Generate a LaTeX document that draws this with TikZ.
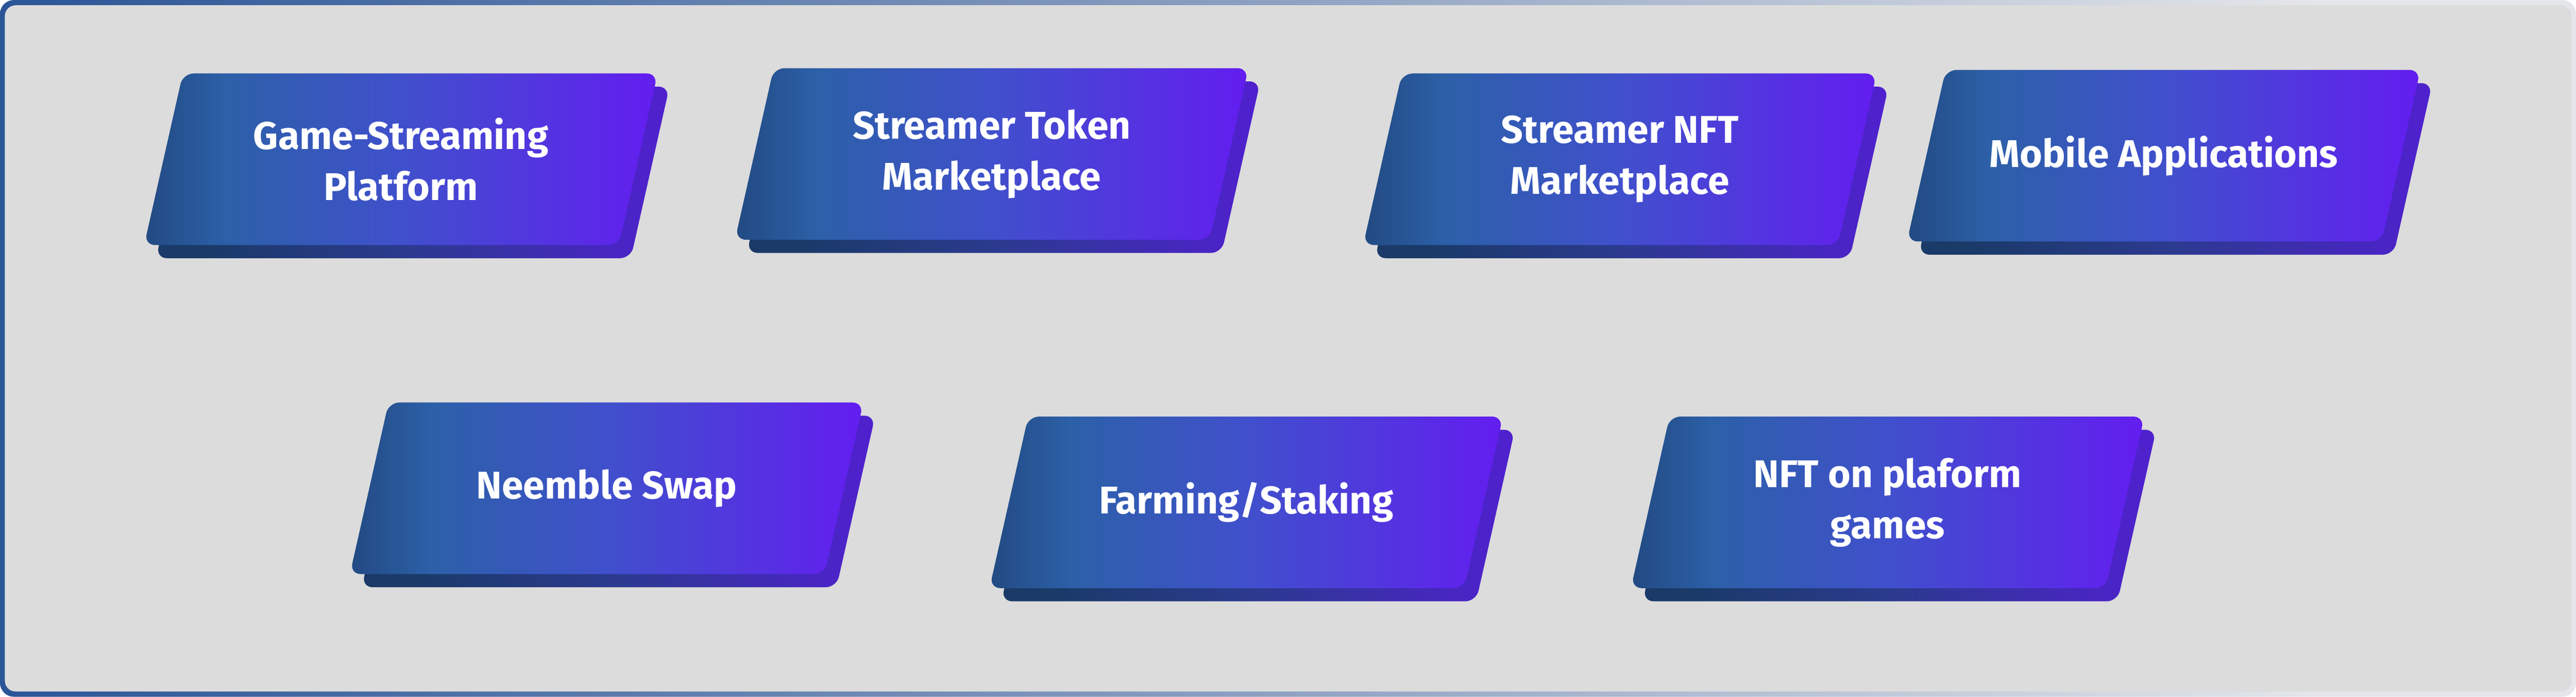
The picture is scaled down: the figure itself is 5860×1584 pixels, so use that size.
\documentclass[tikz,border=0pt]{standalone}
\usepackage{fontspec}
\setmainfont{Fira Sans}
\usepackage{tikz}

\definecolor{framedark}{HTML}{2B5597}
\definecolor{framemid}{HTML}{8FA2C2}
\definecolor{framelight}{HTML}{E4E6EA}
\definecolor{panelgray}{HTML}{DCDCDC}
\definecolor{topA}{HTML}{224A82}
\definecolor{topB}{HTML}{2C60A8}
\definecolor{topC}{HTML}{4050CC}
\definecolor{topD}{HTML}{631DF0}
\definecolor{sideA}{HTML}{1A3A68}
\definecolor{sideB}{HTML}{2C3A90}
\definecolor{sideC}{HTML}{5020D0}

\pgfdeclarehorizontalshading{framefade}{100bp}{color(0bp)=(framedark); color(25bp)=(framedark); color(50bp)=(framemid); color(70bp)=(framelight); color(100bp)=(framelight)}
\pgfdeclarehorizontalshading{tilefront}{100bp}{color(0bp)=(topA); color(25bp)=(topA); color(33bp)=(topB); color(50bp)=(topC); color(75bp)=(topD); color(100bp)=(topD)}
\pgfdeclarehorizontalshading{tileback}{100bp}{color(0bp)=(sideA); color(30bp)=(sideA); color(50bp)=(sideB); color(75bp)=(sideC); color(100bp)=(sideC)}

\newcommand{\tilepath}[2]{(#1,#2) ++(-496,-195) -- ++(1080,0) -- ++(-88,390) -- ++(-1080,0) -- cycle}
\newcommand{\tile}[4]{\path[tileside, shift={(27,30)}] \tilepath{#2}{#3}; \path[tiletop] \tilepath{#2}{#3}; \node[tilelabel] (#1) at (#2,#3) {#4};}

\begin{document}
\begin{tikzpicture}[x=0.01cm, y=-0.01cm,
    tiletop/.style={shading=tilefront, rounded corners=7pt},
    tileside/.style={shading=tileback, rounded corners=7pt},
    tilelabel/.style={text=white, align=center, font=\fontsize{25}{33}\selectfont\bfseries}]
        \useasboundingbox (0,0) rectangle (5860,1584);
        % frame
        \path[shading=framefade, rounded corners=9pt] (0,0) rectangle (5860,1584);
        \fill[panelgray, rounded corners=7pt] (11,12) rectangle (5850,1572);
        % row 1
        \tile{stream}{912}{362}{Game-Streaming\\Platform}
        \tile{token}{2256}{350}{Streamer Token\\Marketplace}
        \tile{nftmarket}{3685}{362}{Streamer NFT\\Marketplace}
        \tile{mobile}{4922}{354}{Mobile Applications}
        % row 2
        \tile{swap}{1380}{1110}{Neemble Swap}
        \tile{farming}{2835}{1142}{Farming/Staking}
        \tile{nftgames}{4294}{1142}{NFT on plaform\\games}
    \end{tikzpicture}
\end{document}
